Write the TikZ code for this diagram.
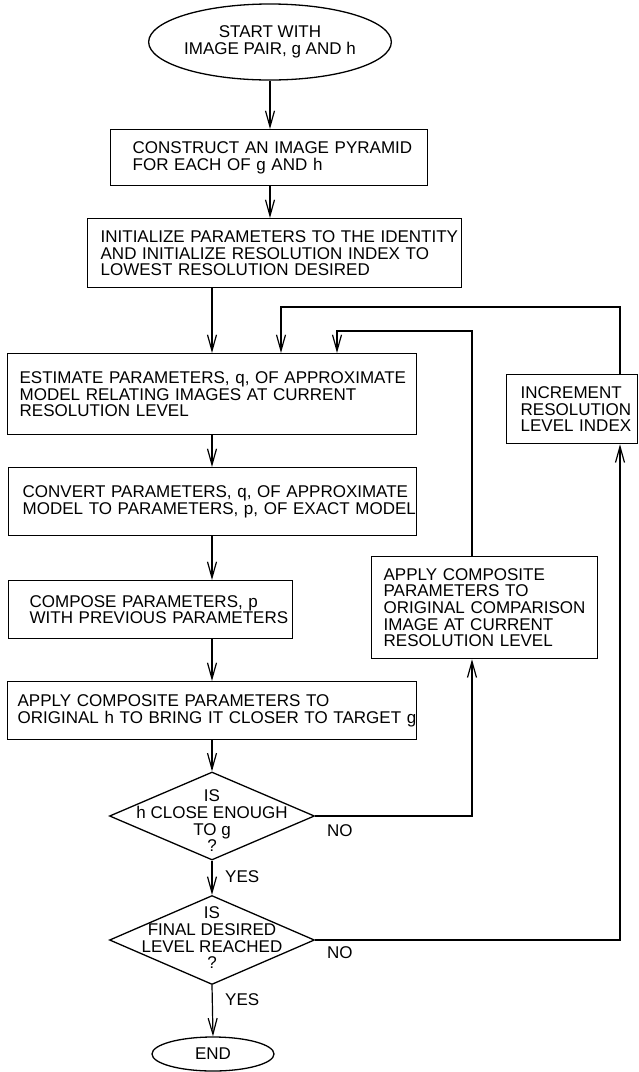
\documentclass[tikz,border=0pt]{standalone}
\usepackage{fontspec}
\setmainfont{Liberation Sans}
\usepackage{tikz}
\usetikzlibrary{shapes.geometric,arrows.meta}

\tikzset{
    box/.style={draw,line width=1.3pt,align=left,anchor=north west,inner xsep=0pt,inner ysep=0pt},
    lpad/.style={execute at begin node={\leftskip=#1}},
    term/.style={draw,ellipse,line width=1.3pt,inner sep=0pt,align=center},
    decision/.style={draw,diamond,line width=1.3pt,inner sep=0pt,minimum width=205pt,minimum height=88pt},
    lbl/.style={anchor=north west,inner sep=0pt},
    arr/.style={line width=1.2pt,-{Straight Barb[length=16pt,width=9pt]}}
}

\begin{document}
\begin{tikzpicture}[x=1pt,y=-1pt,font=\fontsize{17pt}{16.7pt}\selectfont]
    \useasboundingbox (0,0) rectangle (638,1072);
    \coordinate (col) at (212,0);
    \coordinate (loopa) at (472,0);
    \coordinate (loopb) at (620,0);
    \coordinate (upper) at (281,307);
    \coordinate (lower) at (337,331);

    \node[term,minimum width=216pt,minimum height=76pt] (start) at (270,42) {START WITH\\IMAGE PAIR, g AND h};
    \node[box,lpad=22pt,text width=317pt,minimum height=56pt] (construct) at (110,129) {CONSTRUCT AN IMAGE PYRAMID\\FOR EACH OF g AND h};
    \node[box,lpad=13pt,text width=374pt,minimum height=69pt] (init) at (87,218) {INITIALIZE PARAMETERS TO THE IDENTITY\\AND INITIALIZE RESOLUTION INDEX TO\\LOWEST RESOLUTION DESIRED};
    \node[box,lpad=12pt,text width=409pt,minimum height=81pt] (estimate) at (7,353) {ESTIMATE PARAMETERS, q, OF APPROXIMATE\\MODEL RELATING IMAGES AT CURRENT\\RESOLUTION LEVEL};
    \node[box,lpad=14pt,text width=408pt,minimum height=68pt] (convert) at (8,467) {CONVERT PARAMETERS, q, OF APPROXIMATE\\MODEL TO PARAMETERS, p, OF EXACT MODEL};
    \node[box,lpad=21pt,text width=284pt,minimum height=58pt] (compose) at (8,580) {COMPOSE PARAMETERS, p\\WITH PREVIOUS PARAMETERS};
    \node[box,lpad=10pt,text width=409pt,minimum height=58pt] (applyh) at (7,681) {APPLY COMPOSITE PARAMETERS TO\\ORIGINAL h TO BRING IT CLOSER TO TARGET g};
    \node[box,lpad=12pt,text width=226pt,minimum height=102pt] (applyc) at (371,556) {APPLY COMPOSITE\\PARAMETERS TO\\ORIGINAL COMPARISON\\IMAGE AT CURRENT\\RESOLUTION LEVEL};
    \node[box,lpad=14pt,text width=131pt,minimum height=69pt] (incr) at (506,374) {INCREMENT\\RESOLUTION\\LEVEL INDEX};
    \node[decision] (close) at (212,816) {};
    \node[align=center] (closetxt) at (212,821) {IS\\h CLOSE ENOUGH\\TO g\\?};
    \node[decision,minimum height=89pt] (final) at (212,940) {};
    \node[align=center] (finaltxt) at (212,938) {IS\\FINAL DESIRED\\LEVEL REACHED\\?};
    \node[term,minimum width=122pt,minimum height=34pt] (end) at (213,1054) {END};

    \draw[arr] (start.south)--(start.south|-construct.north);
    \draw[arr] (start.south|-construct.south)--(start.south|-init.north);
    \draw[arr] (col|-init.south)--(col|-estimate.north);
    \draw[arr] (col|-estimate.south)--(col|-convert.north);
    \draw[arr] (col|-convert.south)--(col|-compose.north);
    \draw[arr] (col|-compose.south)--(col|-applyh.north);
    \draw[arr] (col|-applyh.south)--(close.north);
    \draw[arr] (close.south)--(final.north);
    \draw[arr] (final.south)--(end.north);
    \draw[arr] (close.east)-|(loopa|-applyc.south);
    \draw[arr] (loopa|-applyc.north)|-(lower)--(lower|-estimate.north);
    \draw[arr] (final.east)-|(loopb|-incr.south);
    \draw[arr] (loopb|-incr.north)|-(upper)--(upper|-estimate.north);

    \node[lbl] (yes1) at (225,870) {YES};
    \node[lbl] (yes2) at (225,993) {YES};
    \node[lbl] (no1) at (327,824) {NO};
    \node[lbl] (no2) at (327,946) {NO};
\end{tikzpicture}
\end{document}
